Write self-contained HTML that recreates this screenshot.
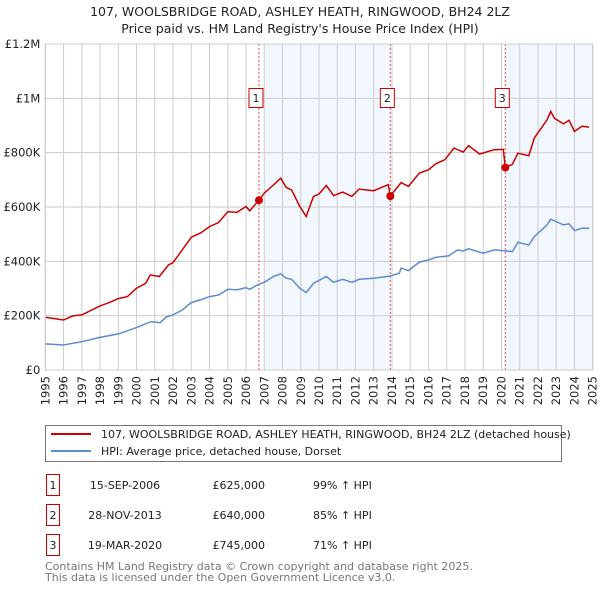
<!DOCTYPE html>
<html><head><meta charset="utf-8"><style>
body{margin:0;background:#fff;font-family:"Liberation Sans","DejaVu Sans",sans-serif;}
svg text{font-family:"DejaVu Sans","Liberation Sans",sans-serif;}
</style></head><body>
<svg id="chart" width="600" height="590" viewBox="0 0 600 590" xmlns="http://www.w3.org/2000/svg">
<text x="300" y="16" text-anchor="middle" font-size="12.5" fill="#222">107, WOOLSBRIDGE ROAD, ASHLEY HEATH, RINGWOOD, BH24 2LZ</text>
<text x="300" y="33" text-anchor="middle" font-size="12.5" fill="#222">Price paid vs. HM Land Registry's House Price Index (HPI)</text>
<g id="plot"></g>
<g>
<rect x="45.5" y="425.5" width="516" height="36" fill="#fff" stroke="#777"/>
<line x1="51" y1="434" x2="91" y2="434" stroke="#cc0000" stroke-width="2"/>
<text x="101" y="438" font-size="11" fill="#222">107, WOOLSBRIDGE ROAD, ASHLEY HEATH, RINGWOOD, BH24 2LZ (detached house)</text>
<line x1="51" y1="451" x2="91" y2="451" stroke="#5b8bd0" stroke-width="2"/>
<text x="101" y="455" font-size="11" fill="#222">HPI: Average price, detached house, Dorset</text>
</g>
<g id="table"></g>
<text x="45" y="570" font-size="11" fill="#777">Contains HM Land Registry data © Crown copyright and database right 2025.</text>
<text x="45" y="581" font-size="11" fill="#777">This data is licensed under the Open Government Licence v3.0.</text>
</svg>
<script>
const redX=[1995,1996,1996.5,1997,1998,1998.5,1999,1999.5,2000,2000.5,2000.75,2001.25,2001.75,2002,2002.5,2003,2003.5,2004,2004.5,2005,2005.5,2006,2006.2,2006.71,2007,2007.5,2007.9,2008.2,2008.5,2008.95,2009.3,2009.7,2010,2010.4,2010.8,2011.3,2011.8,2012.2,2013,2013.8,2013.91,2014.5,2014.9,2015.5,2016,2016.4,2016.9,2017.4,2017.9,2018.2,2018.8,2019.6,2020.1,2020.21,2020.6,2020.9,2021.5,2021.8,2022.5,2022.7,2022.9,2023.4,2023.7,2024,2024.4,2024.8];
const redY=[194,184,199,203,236,248,263,270,301,319,350,344,387,395,442,489,504,528,543,583,580,602,586,625,651,681,706,672,663,602,565,639,648,679,642,655,639,666,660,682,640,690,676,725,737,759,774,817,802,826,795,811,812,745,757,798,789,854,921,952,927,906,919,878,897,894];
const hpiX=[1995,1996,1997,1998,1999,2000,2000.8,2001.3,2001.6,2002,2002.5,2003,2003.5,2004,2004.5,2005,2005.5,2006,2006.2,2006.7,2007,2007.5,2007.9,2008.2,2008.5,2008.95,2009.3,2009.7,2010.4,2010.8,2011.3,2011.8,2012.2,2013,2013.9,2014.4,2014.5,2014.9,2015.5,2016,2016.4,2017.1,2017.6,2017.9,2018.2,2019,2019.6,2020.6,2020.9,2021.5,2021.8,2022.5,2022.7,2023.4,2023.7,2024,2024.4,2024.8];
const hpiY=[96,92,104,120,133,156,178,174,194,203,221,248,258,270,276,297,295,303,297,316,323,344,354,338,334,301,285,319,344,323,334,323,334,338,346,356,375,366,397,405,415,420,442,438,446,430,442,436,470,460,491,534,555,534,538,513,522,522];
const saleLabels=["1","2","3"];
const saleYears=[2006.71,2013.91,2020.21];
const salePrices=[625,640,745];
const saleDates=["15-SEP-2006","28-NOV-2013","19-MAR-2020"];
const salePriceText=["£625,000","£640,000","£745,000"];
const saleHpiText=["99% ↑ HPI","85% ↑ HPI","71% ↑ HPI"];
const yTicks=[0,200,400,600,800,1000,1200];
const yTickLabels=["£0","£200K","£400K","£600K","£800K","£1M","£1.2M"];
const xTicks=[1995,1996,1997,1998,1999,2000,2001,2002,2003,2004,2005,2006,2007,2008,2009,2010,2011,2012,2013,2014,2015,2016,2017,2018,2019,2020,2021,2022,2023,2024,2025];

const L=45.3,R=592.7,T=44,B=370;
const sx=y=>L+(y-1995)/30*(R-L);
const sy=v=>B-v/1200*(B-T);
const NS="http://www.w3.org/2000/svg";
const plot=document.getElementById('plot');
function mk(tag,attrs,parent){const e=document.createElementNS(NS,tag);for(const k in attrs)e.setAttribute(k,attrs[k]);(parent||plot).appendChild(e);return e;}
let e;
e=mk('rect',{x:sx(2007.05),y:T,width:sx(saleYears[1])-sx(2007.05),height:B-T,fill:'#f2f6fd'});


e=mk('rect',{x:sx(saleYears[2]),y:T,width:R-sx(saleYears[2]),height:B-T,fill:'#f2f6fd'});


xTicks.forEach((t,i)=>{
 e=mk('line',{x1:sx(t),x2:sx(t),y1:T,y2:B,stroke:'#ccc','stroke-width':1});
 
 
 e=mk('text',{x:0,y:0,transform:`translate(${sx(t)+4},${B+6}) rotate(-90)`,'text-anchor':'end','font-size':'11.5',fill:'#222'});
 e.textContent=t;
 
 
});
yTicks.forEach((t,i)=>{
 e=mk('line',{x1:L,x2:R,y1:sy(t),y2:sy(t),stroke:'#ccc','stroke-width':1});
 
 
 e=mk('text',{x:L-5,y:sy(t)+4,'text-anchor':'end','font-size':'11.5',fill:'#222'});
 e.textContent=yTickLabels[i];
 
 
});
saleYears.forEach((y,i)=>{
 e=mk('line',{x1:sx(y),x2:sx(y),y1:T,y2:B,stroke:'#e05050','stroke-width':1,'stroke-dasharray':'2,2'});
 
 
});
function pts(xs,ys){return xs.map((x,i)=>sx(x).toFixed(1)+','+sy(ys[i]).toFixed(1)).join(' ');}
e=mk('polyline',{points:pts(hpiX,hpiY),fill:'none',stroke:'#5b8bd0','stroke-width':1.5});


e=mk('polyline',{points:pts(redX,redY),fill:'none',stroke:'#cc0000','stroke-width':1.5});


saleYears.forEach((y,i)=>{
 e=mk('circle',{cx:sx(y),cy:sy(salePrices[i]),r:4,fill:'#cc0000'});
 
 
 const cx=sx(y)-3;
 e=mk('rect',{x:cx-7,y:88.5,width:14,height:19,fill:'#fff',stroke:'#cc0000'});
 
 
 e=mk('text',{x:cx,y:102,'text-anchor':'middle','font-size':'11',fill:'#222'});
 e.textContent=saleLabels[i];
 
 
});
e=mk('rect',{x:L,y:T,width:R-L,height:B-T,fill:'none',stroke:'#ccc'});



const tbl=document.getElementById('table');
const rowY=[485,515,545];
saleLabels.forEach((s,i)=>{
 const y=rowY[i];
 e=mk('rect',{x:46.5,y:y-10.5,width:13,height:21,fill:'#fff',stroke:'#cc0000'},tbl);
 
 
 e=mk('text',{x:53,y:y+4,'text-anchor':'middle','font-size':'11',fill:'#222'},tbl);
 e.textContent=s;
 
 
 e=mk('text',{x:125,y:y+4,'text-anchor':'middle','font-size':'11',fill:'#222'},tbl);
 e.textContent=saleDates[i];
 
 
 e=mk('text',{x:265,y:y+4,'text-anchor':'end','font-size':'11',fill:'#222'},tbl);
 e.textContent=salePriceText[i];
 
 
 e=mk('text',{x:313,y:y+4,'font-size':'11',fill:'#222'},tbl);
 e.textContent=saleHpiText[i];
 
 
});
</script>
</body></html>
